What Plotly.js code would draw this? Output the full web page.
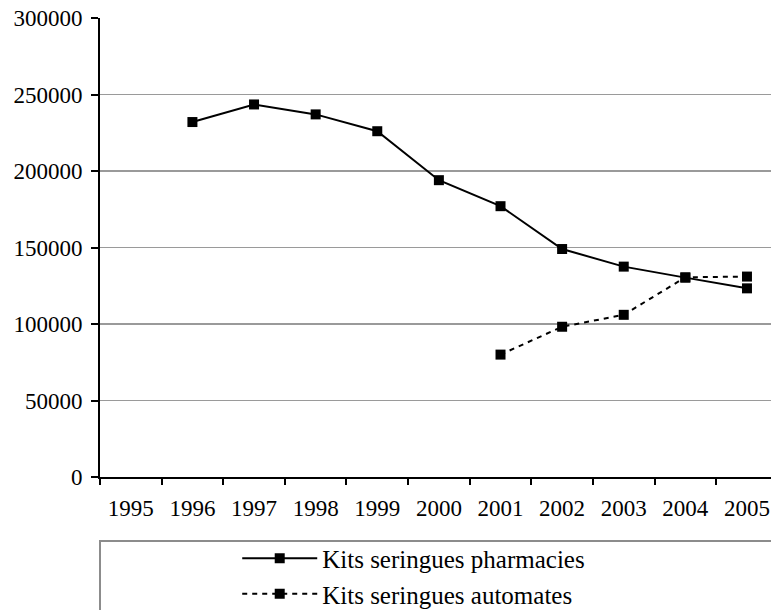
<!DOCTYPE html>
<html>
<head>
<meta charset="utf-8">
<script src="https://cdn.plot.ly/plotly-3.0.1.min.js"></script>
<style>
  html, body { margin: 0; padding: 0; background: #ffffff; }
  #chart { width: 771px; height: 610px; }
</style>
</head>
<body>
<div id="chart"></div>
<script>
const years = ['1995', '1996', '1997', '1998', '1999', '2000', '2001', '2002', '2003', '2004', '2005'];
const pharmacies = [null, 232000, 243500, 237000, 226000, 194000, 177000, 149000, 137500, 130300, 123300];
const automates = [null, null, null, null, null, null, 80000, 98200, 106000, 130500, 131000];
const seriesNames = ['Kits seringues pharmacies', 'Kits seringues automates'];
const yTicks = [0, 50000, 100000, 150000, 200000, 250000, 300000];

const font = 'Liberation Serif';

const traces = [
  {
    x: years, y: pharmacies, name: seriesNames[0], type: 'scatter', mode: 'lines+markers',
    connectgaps: false,
    line: { color: '#000000', width: 2 },
    marker: { symbol: 'square', size: 10, color: '#000000' }
  },
  {
    x: years, y: automates, name: seriesNames[1], type: 'scatter', mode: 'lines+markers',
    line: { color: '#000000', width: 2, dash: '5px,5px' },
    marker: { symbol: 'square', size: 10, color: '#000000' }
  }
];

const layout = {
  width: 771, height: 610,
  margin: { l: 100, r: 0, t: 18, b: 133, pad: 0, autoexpand: false },
  paper_bgcolor: '#ffffff', plot_bgcolor: '#ffffff',
  font: { family: font, color: '#000000', size: 23 },
  showlegend: true,
  legend: {
    x: 0.2045, xanchor: 'left', yref: 'container', y: 0.122, yanchor: 'top',
    orientation: 'v', bgcolor: 'rgba(0,0,0,0)', borderwidth: 0,
    font: { family: font, size: 25, color: '#000000' },
    itemwidth: 75, tracegroupgap: 0
  },
  xaxis: {
    type: 'category', categoryorder: 'array', categoryarray: years,
    range: [-0.5, 10.39], tickson: 'boundaries',
    showgrid: false, zeroline: false,
    showline: true, linecolor: '#000000', linewidth: 2,
    ticks: 'outside', ticklen: 6, tickwidth: 2, tickcolor: '#000000',
    tickfont: { family: font, size: 23, color: '#000000' },
    ticklabelstandoff: 9,
    fixedrange: true
  },
  yaxis: {
    range: [0, 300000], tickvals: yTicks, ticktext: yTicks.map(String),
    showgrid: true, gridcolor: '#9a9a9a', gridwidth: 1.5,
    zeroline: false,
    showline: true, linecolor: '#000000', linewidth: 2,
    ticks: 'outside', ticklen: 7, tickwidth: 2, tickcolor: '#000000',
    tickfont: { family: font, size: 23, color: '#000000' },
    ticklabelstandoff: 4,
    fixedrange: true
  },
  shapes: [
    {
      type: 'rect', xref: 'paper', yref: 'paper',
      x0: 0, x1: 1.3, y0: -0.1394, y1: -0.6,
      line: { color: '#8c8c8c', width: 2 }, fillcolor: 'rgba(0,0,0,0)', layer: 'below'
    }
  ]
};

Plotly.newPlot('chart', traces, layout, { displayModeBar: false, staticPlot: true });
</script>
</body>
</html>
